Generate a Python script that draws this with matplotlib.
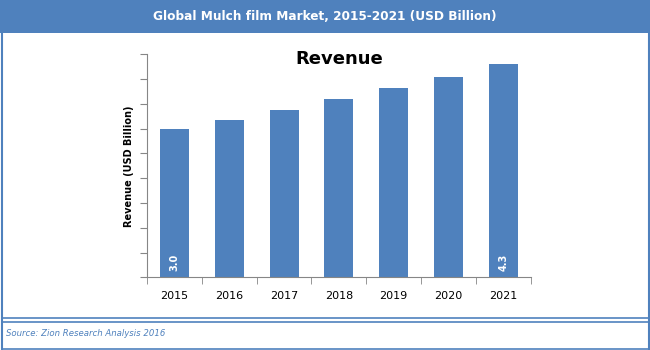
import numpy as np
import matplotlib.pyplot as plt
from matplotlib.patches import Rectangle
from matplotlib.lines import Line2D

# Datos
years = ['2015', '2016', '2017', '2018', '2019', '2020', '2021']
revenue = [3.0, 3.18, 3.38, 3.59, 3.81, 4.05, 4.3]
shown_labels = {0: '3.0', 6: '4.3'}

blue = '#4F81BD'
W, H = 650, 350

fig = plt.figure(figsize=(6.5, 3.5), dpi=100)
fig.patch.set_facecolor('white')


def fx(px):
    return px / W


def fy(py):
    return 1 - py / H


# Barra de título
fig.patches.append(Rectangle((0, fy(33)), 1, 33 / H, transform=fig.transFigure,
                             facecolor=blue, edgecolor='none', zorder=0))
fig.text(0.5, fy(16.5), 'Global Mulch film Market, 2015-2021 (USD Billion)',
         color='white', fontsize=9.7, fontweight='bold', fontstretch='condensed',
         ha='center', va='center')

# Marcos
for x in (fx(1.5), fx(648.5)):
    fig.lines.append(Line2D([x, x], [0, fy(33)], transform=fig.transFigure,
                            color=blue, lw=1.5))
for y in (fy(318), fy(321.5), fy(348.5)):
    fig.lines.append(Line2D([fx(1.5), fx(648.5)], [y, y], transform=fig.transFigure,
                            color=blue, lw=1.2))
fig.text(fx(6), fy(333.5), 'Source: Zion Research Analysis 2016', color=blue,
         fontsize=6.8, style='italic', fontstretch='condensed',
         ha='left', va='center')

# Gráfico
ax = fig.add_axes([fx(147), fy(277.3), fx(530.7) - fx(147), (277.3 - 54.3) / H])
x = np.arange(len(years))
ax.bar(x, revenue, width=0.53, color=blue, zorder=2)
ax.set_xlim(-0.5, len(years) - 0.5)
ax.set_ylim(0, 4.5)
ax.set_yticks(np.arange(0, 4.51, 0.5))
ax.set_yticklabels([])
ax.set_xticks(x)
ax.set_xticklabels(years, fontsize=8)
ax.set_xticks(np.arange(-0.5, len(years), 1), minor=True)
ax.tick_params(axis='x', which='major', length=0, pad=10)
ax.tick_params(axis='x', which='minor', length=5, color='#868686', direction='out')
ax.tick_params(axis='y', length=5, color='#868686', direction='out')
for s in ('top', 'right'):
    ax.spines[s].set_visible(False)
for s in ('left', 'bottom'):
    ax.spines[s].set_color('#868686')
ax.set_ylabel('Revenue (USD Billion)', fontsize=7, fontweight='bold', labelpad=1)
ax.text(0.5, 1 - 5 / 223, 'Revenue', transform=ax.transAxes, fontsize=13,
        fontweight='bold', ha='center', va='center')

for i, txt in shown_labels.items():
    ax.text(x[i], 0.3, txt, color='white', fontsize=7, fontweight='bold',
            rotation=90, ha='center', va='center')

fig.savefig('out.png', dpi=100)
